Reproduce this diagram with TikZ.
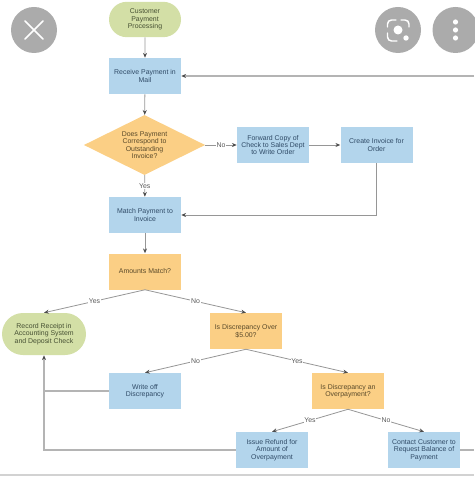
\documentclass[tikz,border=0pt]{standalone}
\usepackage{fontspec}
\setmainfont{Liberation Sans}
\usetikzlibrary{shapes.geometric,shapes.misc,arrows.meta}
\definecolor{bluefill}{HTML}{B3D5EC}
\definecolor{orangefill}{HTML}{FBCF85}
\definecolor{greenfill}{HTML}{D3DFA6}
\definecolor{linegray}{HTML}{969696}
\definecolor{edgegray}{HTML}{B4B4B4}
\definecolor{btn}{HTML}{ABABAB}
\definecolor{bluetext}{HTML}{2F4A66}
\definecolor{orangetext}{HTML}{5A4A2A}
\definecolor{greentext}{HTML}{465033}
\tikzset{
  x=0.75pt,y=-0.75pt,
  lbl/.style={font=\fontsize{5.2}{5.6}\selectfont,align=center,inner sep=0pt},
  bluebox/.style={lbl,rectangle,fill=bluefill,text=bluetext,minimum width=54pt,minimum height=27pt},
  orangebox/.style={lbl,rectangle,fill=orangefill,text=orangetext,minimum width=54pt,minimum height=27pt},
  greenpill/.style={lbl,rounded rectangle,fill=greenfill,text=greentext},
  decision/.style={lbl,diamond,fill=orangefill,text=orangetext,minimum width=91pt,minimum height=45pt,aspect=2,inner sep=0pt},
  flow/.style={draw=linegray,line width=0.6pt,-{Stealth[length=3.6pt,width=3pt,color=black!70]}},
  plain/.style={draw=edgegray,line width=0.8pt},
  wide/.style={draw=edgegray,line width=1pt},
  tag/.style={font=\fontsize{5.2}{6}\selectfont,fill=white,text=black!65,inner sep=0.6pt},
  button/.style={circle,fill=btn,minimum size=34.5pt,inner sep=0pt},
  mark line/.style={white,line width=1.2pt,line cap=round}
}
\begin{document}
\begin{tikzpicture}
\useasboundingbox (0,0) rectangle (474,484);
\node[button] (b1) at (34,30) {};
\node[button] (b2) at (398,30) {};
\node[button] (b3) at (455.5,30) {};
\draw[mark line] (25,21) -- (43,39) (43,21) -- (25,39);
\draw[white,line width=1.1pt,line cap=round,rounded corners=3pt]
  (387.5,27) -- (387.5,20) -- (396,20)
  (401,20) -- (409,20) -- (409,27)
  (387.5,33) -- (387.5,41) -- (397,41);
\fill[white] (398,30) circle[radius=4.5];
\fill[white] (406,38) circle[radius=2.7];
\fill[white] (455.5,22) circle[radius=2.6] (455.5,30) circle[radius=2.6] (455.5,38) circle[radius=2.6];

\node[greenpill,minimum width=54pt,minimum height=26.5pt] (start) at (145,19.5) {Customer\\Payment\\Processing};
\node[bluebox] (receive) at (145,76) {Receive Payment in\\Mail};
\node[decision] (dec) at (144.5,145) {Does Payment\\Correspond to\\Outstanding\\Invoice?};
\node[bluebox] (forward) at (273,145) {Forward Copy of\\Check to Sales Dept\\to Write Order};
\node[bluebox] (create) at (376.5,145) {Create Invoice for\\Order};
\node[bluebox] (match) at (145,215) {Match Payment to\\Invoice};
\node[orangebox] (amounts) at (145,271.5) {Amounts Match?};
\node[greenpill,minimum width=63pt,minimum height=31.5pt] (record) at (44,334) {Record Receipt in\\Accounting System\\and Deposit Check};
\node[orangebox] (over) at (246,331) {Is Discrepancy Over\\\$5.00?};
\node[bluebox] (writeoff) at (145,391) {Write off\\Discrepancy};
\node[orangebox] (overpay) at (348,391) {Is Discrepancy an\\Overpayment?};
\node[bluebox] (issue) at (272,450) {Issue Refund for\\Amount of\\Overpayment};
\node[bluebox] (contact) at (424,450) {Contact Customer to\\Request Balance of\\Payment};

\coordinate (rightA) at (474,76);
\coordinate (rightB) at (474,450);
\coordinate (bl) at (0,475);
\coordinate (br) at (474,475);
\draw[edgegray!60,line width=0.9pt] (bl) -- (br);

\draw[flow] (start) -- (receive);
\draw[flow] (receive) -- (dec);
\draw[flow] (dec) -- node[tag]{Yes} (match);
\draw[flow] (dec) -- node[tag]{No} (forward);
\draw[flow] (forward) -- (create);
\draw[flow] (create.south) |- (match.east);
\draw[flow,wide] (rightA) -- (receive);
\draw[flow] (match) -- (amounts);
\draw[flow] (amounts.south) -- node[tag]{Yes} (record.north);
\draw[flow] (amounts.south) -- node[tag]{No} (over.north);
\draw[flow] (over.south) -- node[tag]{No} (writeoff.north);
\draw[flow] (over.south) -- node[tag]{Yes} (overpay.north);
\draw[flow] (overpay.south) -- node[tag]{Yes} (issue.north);
\draw[flow] (overpay.south) -- node[tag]{No} (contact.north);
\draw[flow,wide] (issue.west) -| (record.south);
\draw[plain] (writeoff.west) -- (44,391);
\draw[plain] (contact.east) -- (rightB);
\end{tikzpicture}
\end{document}
